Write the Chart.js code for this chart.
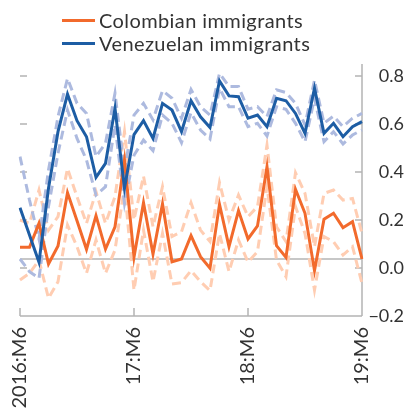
<!DOCTYPE html>
<html><head><meta charset="utf-8">
<script src="https://cdn.jsdelivr.net/npm/chart.js@4/dist/chart.umd.min.js"></script>
<style>
html,body{margin:0;padding:0;background:#fff;}
#wrap{position:relative;width:404px;height:420px;overflow:hidden}
canvas{position:absolute;left:0;top:0}
.leg{position:absolute;left:62px;height:22px;line-height:22px;font-family:Lato,sans-serif;font-size:20px;letter-spacing:0.4px;color:#333;display:flex;align-items:center;white-space:nowrap}
.leg i{display:inline-block;width:33px;height:3px;margin-right:4px}
</style></head>
<body><div id="wrap"><canvas id="c" width="404" height="420"></canvas><div id="legend"></div></div>
<script>
const categories = [
 "2016:M6","2016:M7","2016:M8","2016:M9","2016:M10","2016:M11","2016:M12",
 "2017:M1","2017:M2","2017:M3","2017:M4","2017:M5","2017:M6","2017:M7","2017:M8","2017:M9","2017:M10","2017:M11","2017:M12",
 "2018:M1","2018:M2","2018:M3","2018:M4","2018:M5","2018:M6","2018:M7","2018:M8","2018:M9","2018:M10","2018:M11","2018:M12",
 "2019:M1","2019:M2","2019:M3","2019:M4","2019:M5","2019:M6"];
const tickLabels = {"2016:M6":"2016:M6","2017:M6":"17:M6","2018:M6":"18:M6","2019:M6":"19:M6"};
const yTicks = [-0.2, 0, 0.2, 0.4, 0.6, 0.8];
const refLine = 0.0375;

const colombian = [0.086,0.086,0.186,0.017,0.092,0.314,0.197,0.078,0.218,0.079,0.172,0.45,0.045,0.272,0.058,0.267,0.026,0.0375,0.135,0.047,-0.001,0.265,0.089,0.239,0.121,0.175,0.422,0.093,0.044,0.328,0.228,-0.011,0.203,0.228,0.168,0.193,0.0375];
const colombianUpper = [0.2,0.186,0.325,0.158,0.214,0.415,0.297,0.186,0.318,0.186,0.297,0.568,0.2,0.383,0.172,0.339,0.131,0.151,0.272,0.158,0.11,0.356,0.2,0.304,0.214,0.256,0.512,0.172,0.11,0.397,0.311,0.089,0.311,0.325,0.283,0.29,0.144];
const colombianLower = [-0.05,-0.022,0.033,-0.126,-0.057,0.179,0.089,-0.022,0.117,-0.022,0.075,0.339,-0.092,0.158,-0.057,0.144,-0.067,-0.061,-0.011,-0.057,-0.094,0.144,-0.015,0.117,0.025,0.068,0.339,0.033,-0.036,0.256,0.144,-0.092,0.131,0.11,0.054,0.089,-0.064];
const venezuelan = [0.251,0.1375,0.024,0.332,0.568,0.724,0.614,0.547,0.378,0.436,0.665,0.332,0.556,0.614,0.54,0.686,0.658,0.568,0.697,0.63,0.585,0.779,0.717,0.714,0.624,0.6375,0.589,0.707,0.697,0.644,0.561,0.749,0.561,0.603,0.547,0.589,0.61];
const venezuelanUpper = [0.464,0.283,0.12,0.408,0.63,0.79,0.686,0.644,0.464,0.52,0.728,0.408,0.637,0.686,0.617,0.739,0.707,0.624,0.744,0.672,0.637,0.811,0.756,0.756,0.662,0.672,0.631,0.742,0.731,0.686,0.596,0.783,0.603,0.633,0.589,0.624,0.644];
const venezuelanLower = [0.0375,-0.015,-0.043,0.256,0.478,0.658,0.54,0.45,0.304,0.339,0.596,0.269,0.47,0.533,0.489,0.6375,0.603,0.522,0.647,0.575,0.5375,0.749,0.672,0.672,0.589,0.603,0.55,0.672,0.661,0.603,0.526,0.707,0.526,0.568,0.517,0.554,0.575];

const ORANGE = '#F26A2C', BLUE = '#1D5DA4', ORANGE_BAND = '#FFCDB2', BLUE_BAND = '#ADBADF';
const AXIS = '#B4B4B4', TEXT = '#333333', FONT = 'Lato';

const series = [
  {label:'Colombian immigrants', color: ORANGE},
  {label:'Venezuelan immigrants', color: BLUE}
];
const leg = document.getElementById('legend');
series.forEach((s, k) => {
  const d = document.createElement('div');
  d.className = 'leg'; d.style.top = (9 + 23*k) + 'px';
  d.innerHTML = '<i style="background:' + s.color + '"></i>' + s.label;
  leg.appendChild(d);
});

function line(data, color, width, dash, order) {
  return {data, borderColor: color, borderWidth: width, borderDash: dash || [], pointRadius: 0,
          tension: 0, fill: false, order, borderCapStyle: 'butt', borderJoinStyle: 'miter'};
}

const decor = {
  id: 'decor',
  beforeDatasetsDraw(chart) {
    const {ctx, chartArea: a, scales: {x, y}} = chart;
    ctx.save();
    ctx.strokeStyle = AXIS; ctx.lineWidth = 1.5;
    const yr = y.getPixelForValue(refLine);
    ctx.beginPath(); ctx.moveTo(a.left, yr); ctx.lineTo(a.right, yr); ctx.stroke();
    ctx.beginPath();
    ctx.moveTo(a.left, a.bottom); ctx.lineTo(a.right, a.bottom);
    ctx.moveTo(a.right, a.top); ctx.lineTo(a.right, a.bottom);
    yTicks.forEach(v => {
      const py = y.getPixelForValue(v);
      ctx.moveTo(a.right - 7, py); ctx.lineTo(a.right, py);
      if (v > -0.2) { ctx.moveTo(a.left, py); ctx.lineTo(a.left + 7, py); }
    });
    categories.forEach((c, i) => {
      if (tickLabels[c]) {
        const px = x.getPixelForValue(i);
        ctx.moveTo(px, a.bottom - 8); ctx.lineTo(px, a.bottom);
      }
    });
    ctx.stroke();
    ctx.restore();
  }
};

new Chart(document.getElementById('c'), {
  type: 'line',
  data: {
    labels: categories,
    datasets: [
      line(venezuelan, BLUE, 3, null, 0),
      line(colombian, ORANGE, 3, null, 1),
      line(venezuelanUpper, BLUE_BAND, 3, [9,5], 2),
      line(venezuelanLower, BLUE_BAND, 3, [9,5], 3),
      line(colombianUpper, ORANGE_BAND, 3, [9,5], 4),
      line(colombianLower, ORANGE_BAND, 3, [9,5], 5)
    ]
  },
  options: {
    responsive: false, animation: false, devicePixelRatio: 1,
    layout: {padding: {left: 20, top: 64, right: 0, bottom: 0}},
    plugins: {legend: {display: false}, tooltip: {enabled: false}},
    scales: {
      x: {
        type: 'category', offset: false,
        grid: {display: false, drawTicks: false}, border: {display: false},
        ticks: {autoSkip: false, maxRotation: 90, minRotation: 90, padding: 11, color: TEXT,
                font: {family: FONT, size: 20},
                callback: (v, i) => tickLabels[categories[i]] || ''},
        afterFit: s => { s.height = 104; }
      },
      y: {
        position: 'right', min: -0.2, max: 0.85,
        grid: {display: false, drawTicks: false}, border: {display: false},
        afterBuildTicks: s => { s.ticks = yTicks.map(v => ({value: v})); },
        ticks: {crossAlign: 'far', padding: 3, color: TEXT, font: {family: FONT, size: 18},
                callback: v => (v < 0 ? '\u2212' : '') + Math.abs(v).toFixed(1)},
        afterFit: s => { s.width = 42; }
      }
    }
  },
  plugins: [decor]
});
</script>
</body></html>
